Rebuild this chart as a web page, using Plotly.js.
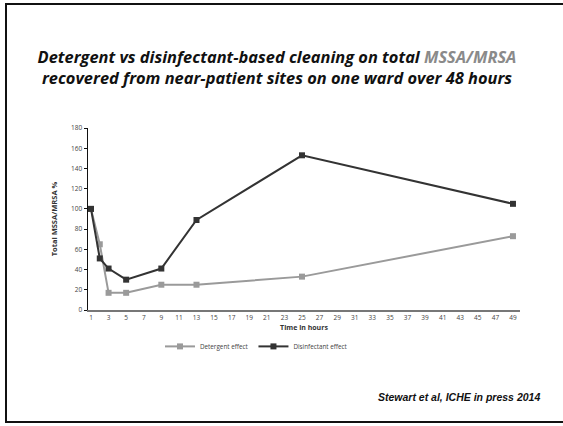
<!DOCTYPE html>
<html>
<head>
<meta charset="utf-8">
<script src="https://cdn.plot.ly/plotly-3.0.1.min.js"></script>
<style>
html,body{margin:0;padding:0;background:#fff;}
#wrap{position:relative;width:563px;height:426px;overflow:hidden;}
#chart{width:563px;height:426px;}
#frame{position:absolute;left:5px;top:3px;width:570px;height:416px;border:2px solid #111;pointer-events:none;}
</style>
</head>
<body>
<div id="wrap">
<div id="chart"></div>
<div id="frame"></div>
</div>
<script>
const hours = [1, 2, 3, 5, 9, 13, 25, 49];
const detergent = [100, 65, 17, 17, 25, 25, 33, 73];
const disinfectant = [100, 51, 41, 30, 41, 89, 153, 105];
const xTicks = [1,3,5,7,9,11,13,15,17,19,21,23,25,27,29,31,33,35,37,39,41,43,45,47,49];
const yTicks = [0,20,40,60,80,100,120,140,160,180];

const traces = [
  {x: hours, y: detergent, name: 'Detergent effect', mode: 'lines+markers',
   line: {color: '#9a9a9a', width: 2}, marker: {symbol: 'square', size: 6, color: '#9a9a9a'}},
  {x: hours, y: disinfectant, name: 'Disinfectant effect', mode: 'lines+markers',
   line: {color: '#333333', width: 2}, marker: {symbol: 'square', size: 6, color: '#333333'}}
];

const layout = {
  width: 563, height: 426,
  margin: {l: 88, r: 43, t: 128, b: 116},
  paper_bgcolor: '#fff', plot_bgcolor: '#fff',
  showlegend: true,
  font: {family: 'Open Sans, sans-serif', color: '#444'},
  title: {
    text: 'Detergent vs disinfectant-based cleaning on total <span style="color:#8a8a8a">MSSA/MRSA</span><br>recovered from near-patient sites on one ward over 48 hours',
    font: {family: 'Open Sans, sans-serif', size: 16.4, color: '#111', weight: 'bold', style: 'italic'},
    x: 0.492, xanchor: 'center', y: 0.853, yanchor: 'middle', yref: 'container'
  },
  xaxis: {
    range: [0.66, 49.8], tickvals: xTicks, ticktext: xTicks.map(String),
    showgrid: false, zeroline: false, showline: true, linecolor: '#777', linewidth: 2,
    ticks: '', tickfont: {size: 6.5, color: '#444'},
    title: {text: '<b>Time in hours</b>', font: {size: 7, color: '#333'}, standoff: 4}
  },
  yaxis: {
    range: [0, 180], tickvals: yTicks, ticktext: yTicks.map(String),
    showgrid: false, zeroline: false, showline: true, linecolor: '#111', linewidth: 1.5,
    ticks: 'outside', ticklen: 3, tickcolor: '#111', tickfont: {size: 6.5, color: '#444'},
    title: {text: '<b>Total MSSA/MRSA %</b>', font: {size: 7.5, color: '#333'}, standoff: 12}
  },
  legend: {
    orientation: 'h', x: 0.39, xanchor: 'center', y: -0.2, yanchor: 'middle',
    font: {size: 6.3, color: '#444'}, itemwidth: 30, tracegroupgap: 0
  },
  annotations: [{
    text: 'Stewart et al, ICHE in press 2014', xref: 'paper', yref: 'paper',
    x: 1.05, xanchor: 'right', y: -0.48, yanchor: 'middle', showarrow: false,
    font: {family: 'Liberation Sans, Arial, sans-serif', size: 10.5, color: '#111', weight: 'bold', style: 'italic'}
  }]
};

Plotly.newPlot('chart', traces, layout, {displayModeBar: false, staticPlot: true});
</script>
</body>
</html>
